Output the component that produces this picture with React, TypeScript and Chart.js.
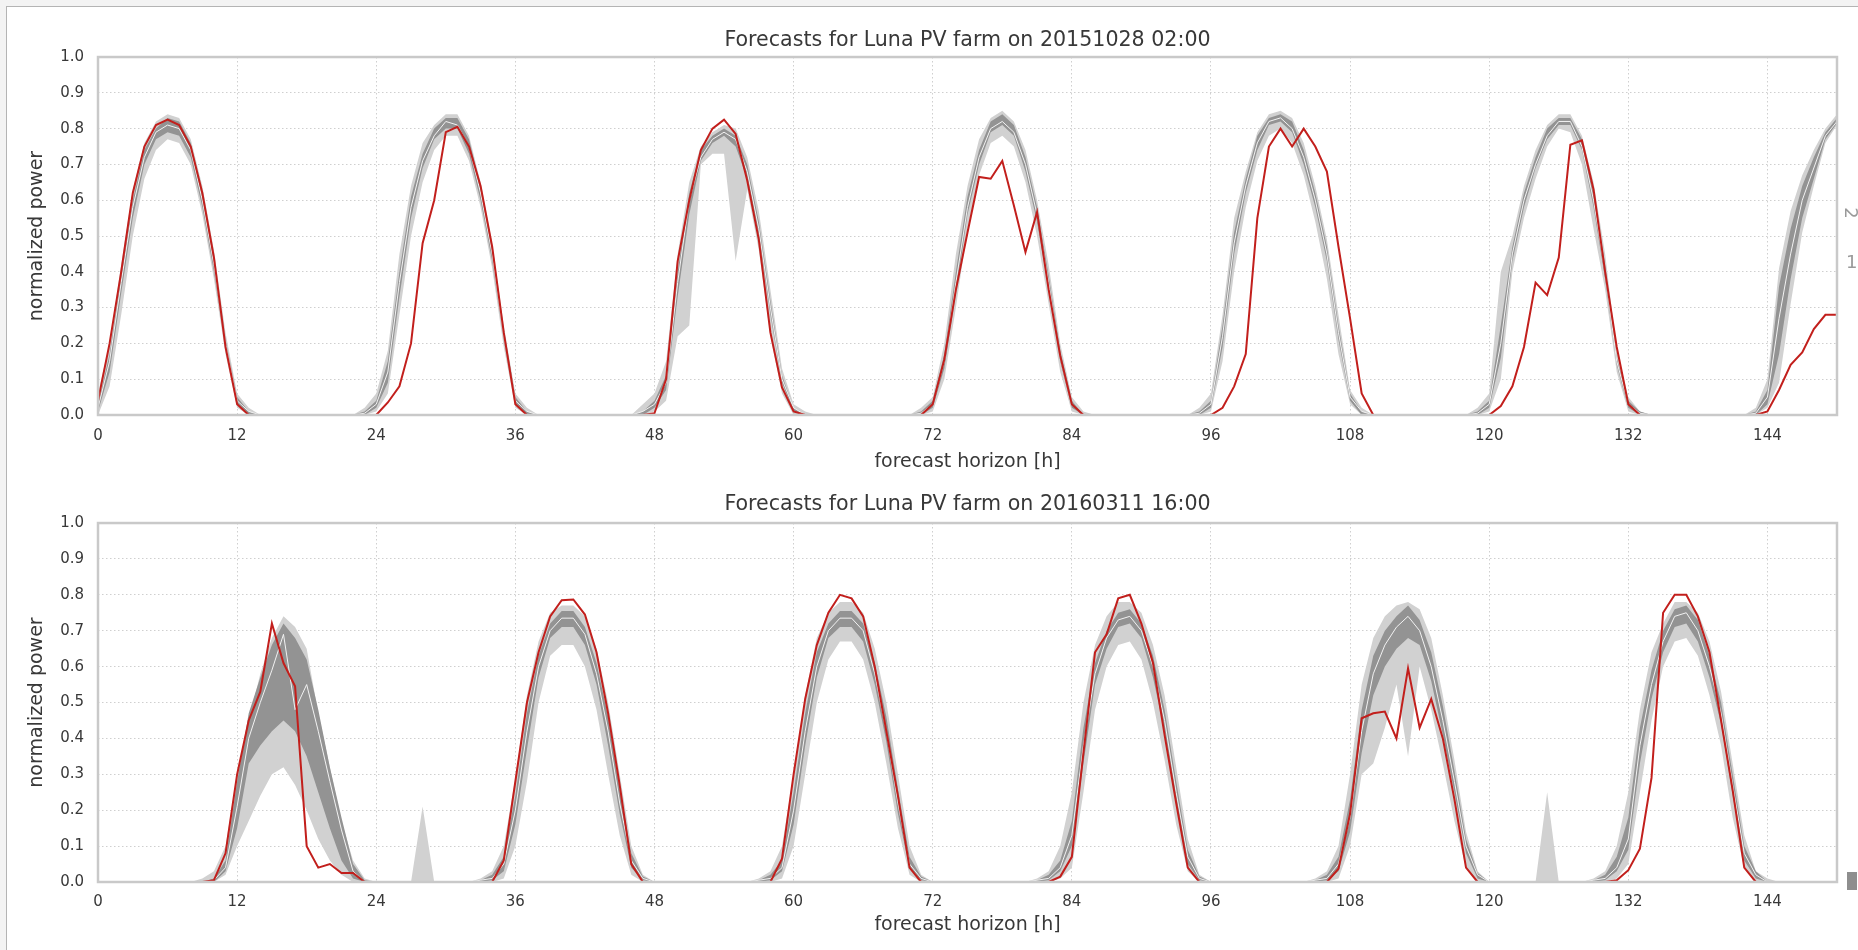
import React, { useEffect, useRef } from "react";
import { Chart, registerables } from "chart.js";

Chart.register(...registerables);

// ---------- data ----------
const X_TICKS = [0, 12, 24, 36, 48, 60, 72, 84, 96, 108, 120, 132, 144];
const Y_TICKS = [0, 0.1, 0.2, 0.3, 0.4, 0.5, 0.6, 0.7, 0.8, 0.9, 1.0];
const TITLE_TOP = "Forecasts for Luna PV farm on 20151028 02:00";
const TITLE_BOTTOM = "Forecasts for Luna PV farm on 20160311 16:00";
const X_TITLE = "forecast horizon [h]";
const Y_TITLE = "normalized power";

// forecast horizon in hours, 0 .. 150
const HOURS = Array.from({ length: 151 }, (_, i) => i);

// ----- upper panel (20151028 02:00) -----
const TOP_OBSERVED = [
  0.04, 0.2, 0.4, 0.62, 0.75, 0.81, 0.825, 0.81, 0.75, 0.62, 0.44, 0.19, 0.03, 0,
  0, 0, 0, 0, 0, 0, 0, 0, 0, 0,
  0, 0.035, 0.08, 0.2, 0.48, 0.6, 0.79, 0.805, 0.75, 0.64, 0.47, 0.23, 0.03, 0,
  0, 0, 0, 0, 0, 0, 0, 0, 0, 0,
  0.005, 0.1, 0.43, 0.6, 0.74, 0.8, 0.825, 0.785, 0.655, 0.49, 0.23, 0.077, 0.01, 0,
  0, 0, 0, 0, 0, 0, 0, 0, 0, 0,
  0.03, 0.155, 0.35, 0.51, 0.665, 0.66, 0.71, 0.585, 0.455, 0.567, 0.35, 0.165, 0.03, 0,
  0, 0, 0, 0, 0, 0, 0, 0, 0, 0, 0,
  0.02, 0.08, 0.17, 0.55, 0.75, 0.8, 0.75, 0.8, 0.75, 0.68, 0.47, 0.27, 0.06, 0,
  0, 0, 0, 0, 0, 0, 0, 0, 0, 0,
  0.025, 0.08, 0.19, 0.37, 0.335, 0.44, 0.755, 0.767, 0.63, 0.4, 0.19, 0.03, 0,
  0, 0, 0, 0, 0, 0, 0, 0, 0, 0,
  0.01, 0.07, 0.14, 0.175, 0.24, 0.28, 0.28,
];
const TOP_MEDIAN = [
  0.02, 0.15, 0.37, 0.58, 0.72, 0.79, 0.81, 0.8, 0.74, 0.6, 0.42, 0.2, 0.04, 0.01,
  0, 0, 0, 0, 0, 0, 0, 0, 0,
  0.005, 0.03, 0.12, 0.37, 0.58, 0.71, 0.78, 0.82, 0.81, 0.75, 0.62, 0.45, 0.22, 0.04, 0.01,
  0, 0, 0, 0, 0, 0, 0, 0, 0,
  0.01, 0.03, 0.09, 0.37, 0.6, 0.72, 0.77, 0.79, 0.77, 0.68, 0.52, 0.3, 0.1, 0.02, 0,
  0, 0, 0, 0, 0, 0, 0, 0, 0,
  0.005, 0.03, 0.15, 0.37, 0.58, 0.72, 0.8, 0.82, 0.79, 0.7, 0.56, 0.37, 0.16, 0.03, 0,
  0, 0, 0, 0, 0, 0, 0, 0, 0,
  0.005, 0.03, 0.22, 0.48, 0.64, 0.76, 0.82, 0.83, 0.8, 0.72, 0.6, 0.45, 0.23, 0.05, 0.01,
  0, 0, 0, 0, 0, 0, 0, 0, 0,
  0.005, 0.03, 0.2, 0.45, 0.6, 0.7, 0.78, 0.82, 0.82, 0.75, 0.6, 0.4, 0.15, 0.03, 0.005,
  0, 0, 0, 0, 0, 0, 0, 0, 0,
  0.005, 0.05, 0.27, 0.45, 0.6, 0.69, 0.78, 0.82,
];
const TOP_OUTER_LO = [
  0, 0.08, 0.28, 0.5, 0.66, 0.74, 0.77, 0.76, 0.7, 0.56, 0.38, 0.17, 0.02, 0,
  0, 0, 0, 0, 0, 0, 0, 0, 0,
  0, 0.01, 0.06, 0.28, 0.5, 0.65, 0.74, 0.78, 0.78, 0.71, 0.58, 0.41, 0.19, 0.02, 0,
  0, 0, 0, 0, 0, 0, 0, 0, 0,
  0, 0.01, 0.04, 0.22, 0.25, 0.7, 0.73, 0.73, 0.43, 0.63, 0.46, 0.22, 0.06, 0, 0,
  0, 0, 0, 0, 0, 0, 0, 0, 0,
  0, 0.01, 0.1, 0.3, 0.52, 0.67, 0.76, 0.78, 0.75, 0.65, 0.5, 0.31, 0.12, 0.01, 0,
  0, 0, 0, 0, 0, 0, 0, 0, 0,
  0, 0.01, 0.15, 0.4, 0.58, 0.71, 0.78, 0.8, 0.76, 0.67, 0.54, 0.38, 0.17, 0.03, 0,
  0, 0, 0, 0, 0, 0, 0, 0, 0,
  0, 0.01, 0.1, 0.4, 0.55, 0.66, 0.75, 0.8, 0.79, 0.7, 0.52, 0.35, 0.12, 0.01, 0,
  0, 0, 0, 0, 0, 0, 0, 0, 0,
  0, 0.02, 0.09, 0.31, 0.51, 0.64, 0.76, 0.81,
];
const TOP_OUTER_HI = [
  0.06, 0.2, 0.42, 0.63, 0.76, 0.82, 0.84, 0.83, 0.77, 0.64, 0.46, 0.23, 0.06, 0.02,
  0, 0, 0, 0, 0, 0, 0, 0, 0,
  0.02, 0.06, 0.18, 0.45, 0.64, 0.76, 0.81, 0.84, 0.84, 0.78, 0.65, 0.48, 0.25, 0.06, 0.02,
  0, 0, 0, 0, 0, 0, 0, 0, 0,
  0.03, 0.06, 0.15, 0.45, 0.65, 0.75, 0.79, 0.81, 0.8, 0.72, 0.57, 0.35, 0.13, 0.03, 0.01,
  0, 0, 0, 0, 0, 0, 0, 0, 0,
  0.02, 0.05, 0.2, 0.45, 0.64, 0.77, 0.83, 0.85, 0.82, 0.74, 0.6, 0.42, 0.2, 0.05, 0.01,
  0, 0, 0, 0, 0, 0, 0, 0, 0,
  0.02, 0.06, 0.28, 0.55, 0.68, 0.79, 0.84, 0.85, 0.83, 0.76, 0.64, 0.49, 0.28, 0.07, 0.02,
  0, 0, 0, 0, 0, 0, 0, 0, 0,
  0.02, 0.06, 0.4, 0.5, 0.64, 0.74, 0.81, 0.84, 0.84, 0.78, 0.65, 0.45, 0.18, 0.05, 0.01,
  0, 0, 0, 0, 0, 0, 0, 0, 0,
  0.02, 0.1, 0.41, 0.57, 0.67, 0.74, 0.8, 0.84,
];
const TOP_INNER_LO = [
  0.01, 0.12, 0.34, 0.55, 0.7, 0.77, 0.79, 0.78, 0.72, 0.58, 0.4, 0.19, 0.03, 0,
  0, 0, 0, 0, 0, 0, 0, 0, 0,
  0, 0.02, 0.09, 0.33, 0.55, 0.69, 0.77, 0.8, 0.8, 0.73, 0.6, 0.43, 0.21, 0.03, 0,
  0, 0, 0, 0, 0, 0, 0, 0, 0,
  0, 0.02, 0.07, 0.33, 0.56, 0.71, 0.76, 0.78, 0.75, 0.66, 0.5, 0.28, 0.09, 0.01, 0,
  0, 0, 0, 0, 0, 0, 0, 0, 0,
  0, 0.02, 0.13, 0.34, 0.56, 0.7, 0.79, 0.81, 0.78, 0.68, 0.54, 0.35, 0.15, 0.02, 0,
  0, 0, 0, 0, 0, 0, 0, 0, 0,
  0, 0.02, 0.19, 0.45, 0.62, 0.74, 0.81, 0.82, 0.79, 0.7, 0.58, 0.43, 0.21, 0.04, 0,
  0, 0, 0, 0, 0, 0, 0, 0, 0,
  0, 0.02, 0.16, 0.43, 0.58, 0.69, 0.77, 0.81, 0.81, 0.74, 0.58, 0.38, 0.14, 0.02, 0,
  0, 0, 0, 0, 0, 0, 0, 0, 0,
  0, 0.03, 0.17, 0.38, 0.55, 0.66, 0.77, 0.815,
];
const TOP_INNER_HI = [
  0.03, 0.17, 0.39, 0.6, 0.74, 0.8, 0.83, 0.82, 0.76, 0.62, 0.44, 0.21, 0.05, 0.01,
  0, 0, 0, 0, 0, 0, 0, 0, 0,
  0.01, 0.04, 0.15, 0.4, 0.61, 0.73, 0.8, 0.83, 0.83, 0.77, 0.64, 0.47, 0.24, 0.05, 0.01,
  0, 0, 0, 0, 0, 0, 0, 0, 0,
  0.01, 0.04, 0.11, 0.4, 0.62, 0.74, 0.78, 0.8, 0.78, 0.7, 0.54, 0.32, 0.11, 0.02, 0,
  0, 0, 0, 0, 0, 0, 0, 0, 0,
  0.01, 0.04, 0.17, 0.4, 0.61, 0.74, 0.82, 0.84, 0.81, 0.72, 0.58, 0.39, 0.18, 0.04, 0,
  0, 0, 0, 0, 0, 0, 0, 0, 0,
  0.01, 0.04, 0.25, 0.51, 0.66, 0.78, 0.83, 0.84, 0.82, 0.74, 0.62, 0.47, 0.25, 0.06, 0.01,
  0, 0, 0, 0, 0, 0, 0, 0, 0,
  0.01, 0.04, 0.25, 0.47, 0.62, 0.72, 0.8, 0.83, 0.83, 0.77, 0.62, 0.42, 0.16, 0.04, 0.01,
  0, 0, 0, 0, 0, 0, 0, 0, 0,
  0.01, 0.07, 0.36, 0.52, 0.64, 0.72, 0.79, 0.83,
];

// ----- lower panel (20160311 16:00) -----
const BOT_OBSERVED = [
  0, 0, 0, 0, 0, 0, 0, 0, 0, 0,
  0.005, 0.08, 0.3, 0.45, 0.53, 0.72, 0.61, 0.545, 0.1, 0.04, 0.05, 0.025, 0.025, 0,
  0, 0, 0, 0, 0, 0, 0, 0, 0, 0,
  0, 0.06, 0.28, 0.5, 0.64, 0.74, 0.785, 0.787, 0.745, 0.64, 0.47, 0.27, 0.05, 0,
  0, 0, 0, 0, 0, 0, 0, 0, 0, 0,
  0, 0.065, 0.3, 0.51, 0.66, 0.75, 0.8, 0.79, 0.74, 0.6, 0.42, 0.24, 0.04, 0,
  0, 0, 0, 0, 0, 0, 0, 0, 0, 0,
  0, 0.015, 0.07, 0.36, 0.64, 0.69, 0.79, 0.8, 0.72, 0.61, 0.41, 0.22, 0.04, 0,
  0, 0, 0, 0, 0, 0, 0, 0, 0, 0,
  0, 0.037, 0.19, 0.456, 0.47, 0.475, 0.4, 0.595, 0.43, 0.51, 0.4, 0.23, 0.04, 0,
  0, 0, 0, 0, 0, 0, 0, 0, 0, 0, 0,
  0.005, 0.033, 0.093, 0.29, 0.75, 0.8, 0.8, 0.74, 0.64, 0.45, 0.256, 0.04, 0,
  0, 0, 0, 0, 0, 0, 0,
];
const BOT_MEDIAN = [
  0, 0, 0, 0, 0, 0, 0, 0, 0, 0,
  0.005, 0.04, 0.21, 0.4, 0.5, 0.59, 0.69, 0.48, 0.55, 0.42, 0.28, 0.145, 0.03, 0,
  0, 0, 0, 0, 0, 0, 0, 0, 0,
  0.005, 0.01, 0.05, 0.2, 0.42, 0.6, 0.7, 0.735, 0.735, 0.69, 0.58, 0.42, 0.22, 0.06, 0.01,
  0, 0, 0, 0, 0, 0, 0, 0, 0,
  0.005, 0.01, 0.04, 0.2, 0.42, 0.6, 0.7, 0.735, 0.735, 0.7, 0.58, 0.42, 0.22, 0.05, 0.01,
  0, 0, 0, 0, 0, 0, 0, 0, 0,
  0.005, 0.01, 0.04, 0.13, 0.38, 0.58, 0.68, 0.73, 0.74, 0.7, 0.6, 0.45, 0.25, 0.07, 0.01,
  0, 0, 0, 0, 0, 0, 0, 0, 0,
  0.005, 0.01, 0.05, 0.18, 0.42, 0.58, 0.66, 0.71, 0.74, 0.7, 0.6, 0.45, 0.28, 0.1, 0.02,
  0, 0, 0, 0, 0, 0, 0, 0, 0,
  0.005, 0.01, 0.04, 0.12, 0.38, 0.55, 0.67, 0.74, 0.75, 0.7, 0.6, 0.47, 0.27, 0.08, 0.02,
  0, 0, 0, 0, 0, 0, 0,
];
const BOT_OUTER_LO = [
  0, 0, 0, 0, 0, 0, 0, 0, 0, 0,
  0, 0.02, 0.1, 0.17, 0.24, 0.3, 0.32, 0.27, 0.2, 0.12, 0.06, 0.02, 0, 0,
  0, 0, 0, 0, 0, 0, 0, 0, 0,
  0, 0, 0.01, 0.1, 0.28, 0.5, 0.63, 0.66, 0.66, 0.6, 0.48, 0.3, 0.13, 0.02, 0,
  0, 0, 0, 0, 0, 0, 0, 0, 0,
  0, 0, 0.01, 0.1, 0.3, 0.5, 0.62, 0.67, 0.67, 0.62, 0.5, 0.33, 0.15, 0.02, 0,
  0, 0, 0, 0, 0, 0, 0, 0, 0,
  0, 0, 0.01, 0.04, 0.25, 0.48, 0.6, 0.66, 0.67, 0.62, 0.5, 0.34, 0.16, 0.03, 0,
  0, 0, 0, 0, 0, 0, 0, 0, 0,
  0, 0, 0.01, 0.1, 0.3, 0.33, 0.43, 0.55, 0.35, 0.6, 0.48, 0.33, 0.17, 0.04, 0,
  0, 0, 0, 0, 0, 0, 0, 0, 0,
  0, 0, 0.01, 0.05, 0.25, 0.45, 0.6, 0.67, 0.68, 0.63, 0.52, 0.38, 0.18, 0.04, 0,
  0, 0, 0, 0, 0, 0, 0,
];
const BOT_OUTER_HI = [
  0, 0, 0, 0, 0, 0, 0, 0, 0, 0.01,
  0.03, 0.1, 0.3, 0.45, 0.58, 0.68, 0.74, 0.71, 0.65, 0.47, 0.32, 0.17, 0.06, 0.01,
  0, 0, 0, 0, 0.21, 0, 0, 0, 0,
  0.01, 0.03, 0.1, 0.29, 0.52, 0.67, 0.75, 0.77, 0.77, 0.74, 0.65, 0.5, 0.3, 0.1, 0.02,
  0, 0, 0, 0, 0, 0, 0, 0, 0,
  0.01, 0.03, 0.1, 0.3, 0.52, 0.68, 0.75, 0.78, 0.78, 0.75, 0.65, 0.5, 0.3, 0.1, 0.02,
  0, 0, 0, 0, 0, 0, 0, 0, 0,
  0.01, 0.03, 0.1, 0.25, 0.5, 0.66, 0.74, 0.78, 0.78, 0.75, 0.66, 0.52, 0.32, 0.12, 0.02,
  0, 0, 0, 0, 0, 0, 0, 0, 0,
  0.01, 0.03, 0.1, 0.3, 0.55, 0.68, 0.74, 0.77, 0.78, 0.76, 0.68, 0.52, 0.34, 0.14, 0.03,
  0, 0, 0, 0, 0, 0.25, 0, 0, 0,
  0.01, 0.03, 0.1, 0.25, 0.48, 0.64, 0.72, 0.78, 0.78, 0.75, 0.67, 0.53, 0.33, 0.13, 0.03,
  0.01, 0, 0, 0, 0, 0, 0,
];
const BOT_INNER_LO = [
  0, 0, 0, 0, 0, 0, 0, 0, 0, 0,
  0, 0.03, 0.15, 0.33, 0.38, 0.42, 0.45, 0.42, 0.35, 0.25, 0.15, 0.06, 0.01, 0,
  0, 0, 0, 0, 0, 0, 0, 0, 0,
  0, 0.005, 0.03, 0.16, 0.37, 0.57, 0.68, 0.71, 0.71, 0.66, 0.55, 0.38, 0.19, 0.04, 0.005,
  0, 0, 0, 0, 0, 0, 0, 0, 0,
  0, 0.005, 0.03, 0.16, 0.38, 0.57, 0.68, 0.71, 0.71, 0.67, 0.55, 0.39, 0.19, 0.04, 0.005,
  0, 0, 0, 0, 0, 0, 0, 0, 0,
  0, 0.005, 0.03, 0.1, 0.33, 0.55, 0.65, 0.71, 0.72, 0.68, 0.57, 0.42, 0.22, 0.05, 0.005,
  0, 0, 0, 0, 0, 0, 0, 0, 0,
  0, 0.005, 0.03, 0.14, 0.36, 0.52, 0.6, 0.65, 0.68, 0.66, 0.56, 0.41, 0.25, 0.08, 0.01,
  0, 0, 0, 0, 0, 0, 0, 0, 0,
  0, 0.005, 0.03, 0.09, 0.33, 0.51, 0.64, 0.71, 0.72, 0.67, 0.57, 0.44, 0.24, 0.06, 0.01,
  0, 0, 0, 0, 0, 0, 0,
];
const BOT_INNER_HI = [
  0, 0, 0, 0, 0, 0, 0, 0, 0, 0,
  0.01, 0.06, 0.28, 0.47, 0.57, 0.66, 0.72, 0.68, 0.62, 0.48, 0.32, 0.18, 0.05, 0.005,
  0, 0, 0, 0, 0, 0, 0, 0, 0,
  0.005, 0.02, 0.07, 0.24, 0.47, 0.63, 0.72, 0.755, 0.755, 0.71, 0.61, 0.46, 0.26, 0.08, 0.015,
  0, 0, 0, 0, 0, 0, 0, 0, 0,
  0.005, 0.02, 0.06, 0.25, 0.47, 0.64, 0.72, 0.755, 0.755, 0.72, 0.61, 0.46, 0.26, 0.07, 0.015,
  0, 0, 0, 0, 0, 0, 0, 0, 0,
  0.005, 0.02, 0.06, 0.17, 0.43, 0.61, 0.7, 0.75, 0.76, 0.72, 0.63, 0.48, 0.28, 0.09, 0.015,
  0, 0, 0, 0, 0, 0, 0, 0, 0,
  0.005, 0.02, 0.07, 0.23, 0.48, 0.63, 0.7, 0.74, 0.77, 0.73, 0.64, 0.49, 0.31, 0.12, 0.025,
  0, 0, 0, 0, 0, 0, 0, 0, 0,
  0.005, 0.02, 0.07, 0.18, 0.43, 0.59, 0.7, 0.76, 0.77, 0.73, 0.63, 0.5, 0.3, 0.1, 0.03,
  0, 0, 0, 0, 0, 0, 0,
];

// ---------- styling ----------
const FONT = "'DejaVu Sans', 'Liberation Sans', sans-serif";
const TEXT = "#383838";
const RED = "#c21f1c";
const OUTER_FILL = "#d1d1d1";
const INNER_FILL = "#939393";
const MEDIAN_LINE = "#f2f2f2";
const NONE = "rgba(0,0,0,0)";

const framePlugin = {
  id: "axesFrame",
  afterDraw(chart: any) {
    const { ctx, chartArea } = chart;
    ctx.save();
    ctx.strokeStyle = "#c9c9c9";
    ctx.lineWidth = 2.5;
    ctx.strokeRect(chartArea.left, chartArea.top, chartArea.right - chartArea.left, chartArea.bottom - chartArea.top);
    ctx.restore();
  },
};

type Series = {
  obs: number[];
  med: number[];
  olo: number[];
  ohi: number[];
  ilo: number[];
  ihi: number[];
};

function datasets(s: Series) {
  const base = { pointRadius: 0, pointHoverRadius: 0, tension: 0 };
  return [
    { ...base, label: "observed", data: s.obs, borderColor: RED, borderWidth: 2, fill: false, order: 0 },
    { ...base, label: "median", data: s.med, borderColor: MEDIAN_LINE, borderWidth: 1, fill: false, order: 1 },
    { ...base, label: "inner lo", data: s.ilo, borderColor: NONE, borderWidth: 1, fill: false, order: 3 },
    { ...base, label: "inner hi", data: s.ihi, borderColor: NONE, borderWidth: 1, fill: 2, backgroundColor: INNER_FILL, order: 2 },
    { ...base, label: "outer lo", data: s.olo, borderColor: NONE, borderWidth: 1, fill: false, order: 5 },
    { ...base, label: "outer hi", data: s.ohi, borderColor: NONE, borderWidth: 1, fill: 4, backgroundColor: OUTER_FILL, order: 4 },
  ];
}

type Layout = {
  titleTop: number;
  titleBottom: number;
  xHeight: number;
  xTickPad: number;
  xTitlePad: number;
};

function makeConfig(title: string, s: Series, L: Layout): any {
  return {
    type: "line",
    data: { labels: HOURS, datasets: datasets(s) },
    options: {
      responsive: false,
      animation: false,
      events: [],
      layout: { padding: { left: 0, right: 21, top: 0, bottom: 0 } },
      plugins: {
        legend: { display: false },
        tooltip: { enabled: false },
        filler: { propagate: false },
        title: {
          display: true,
          text: title,
          fullSize: false,
          color: TEXT,
          font: { family: FONT, size: 20.6, weight: "normal", lineHeight: 1.2 },
          padding: { top: L.titleTop, bottom: L.titleBottom },
        },
      },
      scales: {
        x: {
          type: "linear",
          min: 0,
          max: 150,
          afterBuildTicks: (sc: any) => {
            sc.ticks = X_TICKS.map((v) => ({ value: v }));
          },
          afterFit: (sc: any) => {
            sc.height = L.xHeight;
          },
          ticks: {
            color: TEXT,
            padding: L.xTickPad,
            maxRotation: 0,
            autoSkip: false,
            font: { family: FONT, size: 15 },
            callback: (v: any) => String(v),
          },
          grid: { color: "#cfcfcf", lineWidth: 1, drawTicks: false, tickLength: 0 },
          border: { display: false, dash: [1.5, 2.5] },
          title: {
            display: true,
            text: X_TITLE,
            color: TEXT,
            font: { family: FONT, size: 19, lineHeight: 1.2 },
            padding: { top: 0, bottom: L.xTitlePad },
          },
        },
        y: {
          type: "linear",
          min: 0,
          max: 1,
          afterBuildTicks: (sc: any) => {
            sc.ticks = Y_TICKS.map((v) => ({ value: v }));
          },
          afterFit: (sc: any) => {
            sc.width = 98;
          },
          ticks: {
            color: TEXT,
            padding: 14,
            autoSkip: false,
            font: { family: FONT, size: 15 },
            callback: (v: any) => Number(v).toFixed(1),
          },
          grid: { color: "#cfcfcf", lineWidth: 1, drawTicks: false, tickLength: 0 },
          border: { display: false, dash: [1.5, 2.5] },
          title: {
            display: true,
            text: Y_TITLE,
            color: TEXT,
            font: { family: FONT, size: 19, lineHeight: 1.2 },
            padding: { top: 26, bottom: 0 },
          },
        },
      },
    },
    plugins: [framePlugin],
  };
}

export default function App() {
  const topRef = useRef<HTMLCanvasElement | null>(null);
  const botRef = useRef<HTMLCanvasElement | null>(null);

  useEffect(() => {
    const charts: Chart[] = [];
    if (topRef.current) {
      charts.push(
        new Chart(
          topRef.current,
          makeConfig(
            TITLE_TOP,
            { obs: TOP_OBSERVED, med: TOP_MEDIAN, olo: TOP_OUTER_LO, ohi: TOP_OUTER_HI, ilo: TOP_INNER_LO, ihi: TOP_INNER_HI },
            { titleTop: 28, titleBottom: 4.3, xHeight: 65, xTickPad: 12, xTitlePad: 6.6 }
          )
        )
      );
    }
    if (botRef.current) {
      charts.push(
        new Chart(
          botRef.current,
          makeConfig(
            TITLE_BOTTOM,
            { obs: BOT_OBSERVED, med: BOT_MEDIAN, olo: BOT_OUTER_LO, ohi: BOT_OUTER_HI, ilo: BOT_INNER_LO, ihi: BOT_INNER_HI },
            { titleTop: 12, titleBottom: 6.3, xHeight: 68, xTickPad: 11, xTitlePad: 13.6 }
          )
        )
      );
    }
    return () => charts.forEach((c) => c.destroy());
  }, []);

  return (
    <div
      style={{
        position: "fixed",
        left: 0,
        top: 0,
        width: 1858,
        height: 950,
        overflow: "hidden",
        background: "#f3f3f3",
      }}
    >
      <div
        style={{
          position: "absolute",
          left: 6,
          top: 6,
          width: 1900,
          height: 1000,
          borderLeft: "1px solid #b4b4b4",
          borderTop: "1px solid #b4b4b4",
          background: "#ffffff",
        }}
      />
      <canvas
        ref={topRef}
        width={1858}
        height={480}
        style={{ position: "absolute", left: 0, top: 0, width: 1858, height: 480 }}
      />
      <canvas
        ref={botRef}
        width={1858}
        height={470}
        style={{ position: "absolute", left: 0, top: 480, width: 1858, height: 470 }}
      />
      <span
        style={{
          position: "absolute",
          left: 1845,
          top: 203,
          fontFamily: FONT,
          fontSize: 18,
          color: "#9a9a9a",
          transform: "rotate(90deg)",
          lineHeight: "20px",
        }}
      >
        2
      </span>
      <span
        style={{
          position: "absolute",
          left: 1846,
          top: 252,
          fontFamily: FONT,
          fontSize: 18,
          color: "#9a9a9a",
          lineHeight: "20px",
        }}
      >
        1
      </span>
      <div
        style={{
          position: "absolute",
          left: 1847,
          top: 872,
          width: 10,
          height: 18,
          background: "#8e8e8e",
        }}
      />
    </div>
  );
}
